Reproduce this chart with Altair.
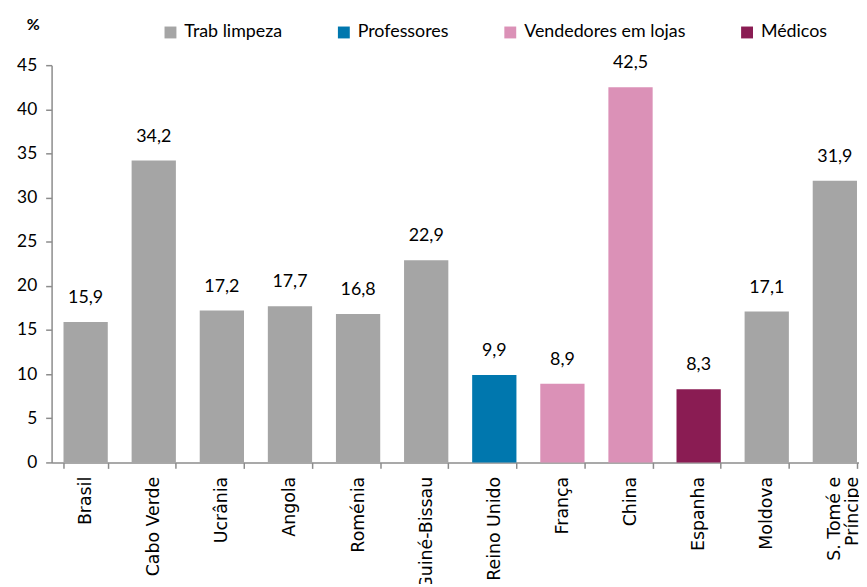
import altair as alt
import pandas as pd

countries = ["Brasil", "Cabo Verde", "Ucrânia", "Angola", "Roménia", "Guiné-Bissau",
             "Reino Unido", "França", "China", "Espanha", "Moldova", "S. Tomé e Príncipe"]
values = [15.9, 34.2, 17.2, 17.7, 16.8, 22.9, 9.9, 8.9, 42.5, 8.3, 17.1, 31.9]
occupations = ["Trab limpeza"] * 6 + ["Professores", "Vendedores em lojas", "Vendedores em lojas",
                                      "Médicos", "Trab limpeza", "Trab limpeza"]
legend_order = ["Trab limpeza", "Professores", "Vendedores em lojas", "Médicos"]
legend_colors = ["#A5A5A5", "#0077AE", "#DB91B7", "#8A1C53"]
y_ticks = [0, 5, 10, 15, 20, 25, 30, 35, 40, 45]

df = pd.DataFrame({"pais": countries, "valor": values, "grupo": occupations})

axis_gray = "#8C8C8C"

x_enc = alt.X(
    "pais:N", sort=countries, title=None,
    scale=alt.Scale(range=[0, 825], paddingInner=0.35, paddingOuter=0.175),
    axis=alt.Axis(labelAngle=-90, labelFont="DejaVu Sans", labelFontSize=17.5, labelColor="#000000",
                  labelPadding=8, tickSize=6, tickBand="extent", domainColor=axis_gray,
                  tickColor=axis_gray, domainWidth=1.5, tickWidth=1.5, labelLineHeight=18,
                  labelExpr="datum.label == 'S. Tomé e Príncipe' ? ['S. Tomé e', 'Príncipe'] : datum.label"),
)
y_enc = alt.Y(
    "valor:Q", scale=alt.Scale(domain=[0, 45], nice=False),
    axis=alt.Axis(values=y_ticks, title="%", titleAngle=0, titleX=-19, titleY=-41,
                  titleAlign="center", titleBaseline="middle", titleFont="Lato", titleFontSize=16,
                  titleFontWeight="bold", titleColor="#000000",
                  labelFont="Lato", labelFontSize=17.5, labelColor="#000000", labelPadding=9,
                  tickSize=6, grid=False, domainColor=axis_gray, tickColor=axis_gray,
                  domainWidth=1.5, tickWidth=1.5),
)

bars = alt.Chart(df).mark_bar().encode(
    x=x_enc,
    y=y_enc,
    color=alt.Color(
        "grupo:N", scale=alt.Scale(domain=legend_order, range=legend_colors),
        legend=alt.Legend(title=None, orient="none", legendX=111, legendY=-42, direction="horizontal",
                          symbolType="square", symbolSize=144, symbolStrokeWidth=0,
                          labelFont="Lato", labelFontSize=18, labelColor="#000000",
                          labelOffset=5, columnPadding=53, labelLimit=400),
    ),
)

labels = alt.Chart(df).transform_calculate(
    lab="replace(format(datum.valor, '.1f'), '.', ',')"
).mark_text(font="Lato", fontSize=18, baseline="middle", dy=-24, color="#000000").encode(
    x=alt.X("pais:N", sort=countries),
    y=alt.Y("valor:Q"),
    text="lab:N",
)

chart = alt.layer(bars, labels).properties(
    width=815, height=401,
    autosize=alt.AutoSizeParams(type="none"),
    padding={"left": 44, "top": 55, "right": 0, "bottom": 120},
).configure_view(stroke=None)

chart.save("out.html", embed_options={"renderer": "svg", "actions": False})
